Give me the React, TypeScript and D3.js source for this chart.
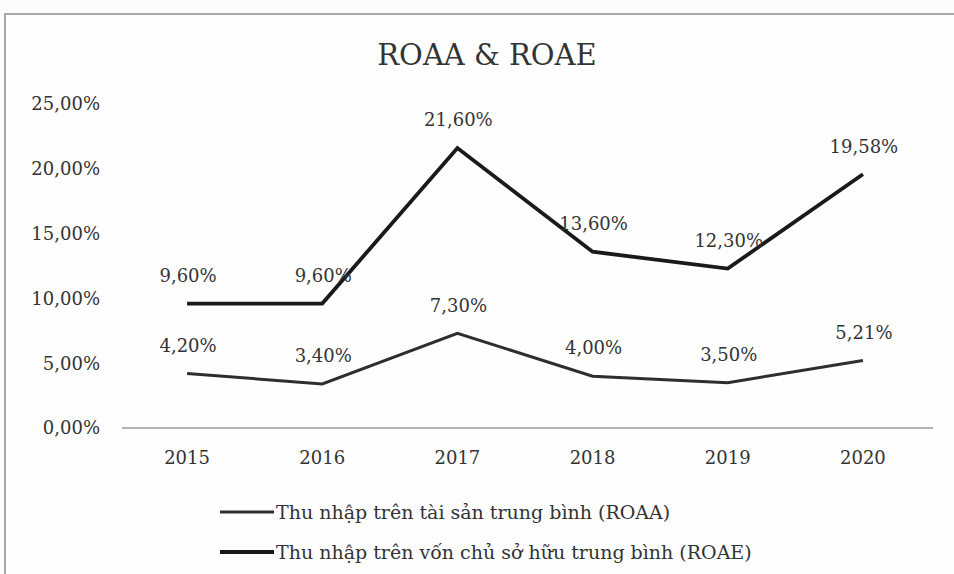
import React from "react";
import * as d3 from "d3";

const years = ["2015", "2016", "2017", "2018", "2019", "2020"];
const roaa = [4.2, 3.4, 7.3, 4.0, 3.5, 5.21];
const roae = [9.6, 9.6, 21.6, 13.6, 12.3, 19.58];
const yTicks = [0, 5, 10, 15, 20, 25];
const seriesNames = [
  "Thu nhập trên tài sản trung bình (ROAA)",
  "Thu nhập trên vốn chủ sở hữu trung bình (ROAE)",
];
const title = "ROAA & ROAE";

const W = 954;
const H = 574;
const FONT = "'DejaVu Serif', 'Liberation Serif', serif";

const fmt = (v: number) => v.toFixed(2).replace(".", ",") + "%";

export default function App() {
  const x = d3.scaleBand<string>().domain(years).range([119.5, 930.5]);
  const y = d3.scaleLinear().domain([0, 25]).range([428, 104]);
  const cx = (d: string) => (x(d) as number) + x.bandwidth() / 2;
  const line = d3
    .line<number>()
    .x((_, i) => cx(years[i]))
    .y((v) => y(v));

  const series = [
    { values: roaa, color: "#2e2e2e", width: 3 },
    { values: roae, color: "#1a1a1a", width: 3.8 },
  ];

  return (
    <svg
      width={W}
      height={H}
      style={{ position: "absolute", left: 0, top: 0, background: "#fcfcfc" }}
      fontFamily={FONT}
    >
      <rect x={0} y={0} width={W} height={H} fill="#fcfcfc" />
      <rect x={5} y={14} width={W + 10} height={H + 10} fill="#fefefe" stroke="#a8a8a8" strokeWidth={2} />
      <text x={487} y={65} textAnchor="middle" fontSize={29} fill="#333">
        {title}
      </text>
      {yTicks.map((t) => (
        <text key={t} x={100} y={y(t)} dy="0.35em" textAnchor="end" fontSize={18} fill="#333">
          {fmt(t)}
        </text>
      ))}
      <line x1={122} x2={933} y1={y(0)} y2={y(0)} stroke="#9a9a9a" strokeWidth={1.5} />
      {years.map((yr) => (
        <text key={yr} x={cx(yr)} y={458} dy="0.35em" textAnchor="middle" fontSize={18} fill="#333">
          {yr}
        </text>
      ))}
      {series.map((s, si) => (
        <g key={si}>
          <path d={line(s.values) || ""} fill="none" stroke={s.color} strokeWidth={s.width} strokeLinejoin="miter" />
          {s.values.map((v, i) => (
            <text
              key={i}
              x={cx(years[i]) + 1}
              y={y(v) - 28}
              dy="0.35em"
              textAnchor="middle"
              fontSize={18}
              fill="#333"
            >
              {fmt(v)}
            </text>
          ))}
        </g>
      ))}
      {series.map((s, si) => (
        <g key={"lg" + si}>
          <line x1={220} x2={274} y1={512 + si * 40} y2={512 + si * 40} stroke={s.color} strokeWidth={s.width} />
          <text x={276} y={512 + si * 40} dy="0.35em" fontSize={19} fill="#333">
            {seriesNames[si]}
          </text>
        </g>
      ))}
    </svg>
  );
}
